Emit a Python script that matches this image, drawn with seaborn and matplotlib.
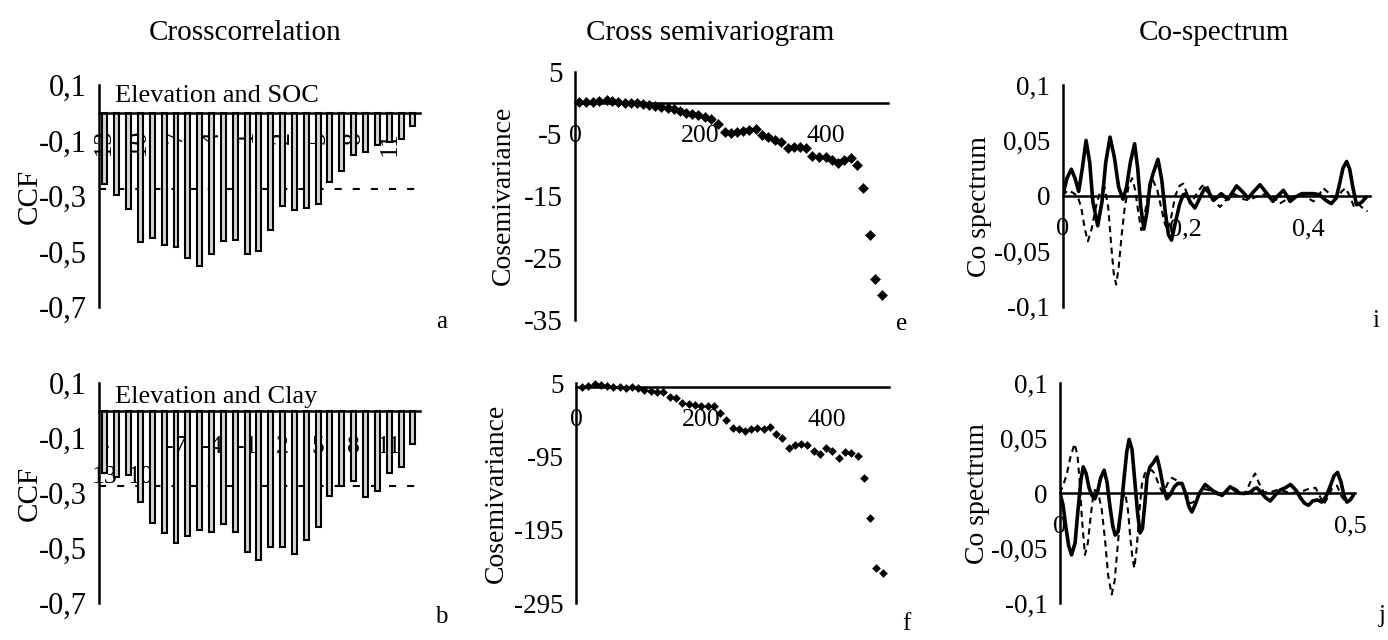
import matplotlib
matplotlib.use("Agg")
import matplotlib.pyplot as plt
import seaborn as sns

sns.set_theme(style="white")
plt.rcParams["font.family"] = ["Liberation Serif", "DejaVu Serif"]

# ---------------- data ----------------
lags = list(range(-13, 14))
ccf_soc = [-0.256, -0.297, -0.347, -0.465, -0.451, -0.477, -0.485, -0.522, -0.552,
           -0.509, -0.461, -0.460, -0.508, -0.497, -0.421, -0.336, -0.351, -0.342,
           -0.330, -0.249, -0.209, -0.151, -0.142, -0.115, -0.105, -0.096, -0.048]
ccf_clay = [-0.225, -0.240, -0.234, -0.331, -0.407, -0.446, -0.480, -0.455, -0.434,
            -0.441, -0.410, -0.441, -0.513, -0.543, -0.495, -0.495, -0.519, -0.468,
            -0.424, -0.311, -0.275, -0.255, -0.313, -0.290, -0.227, -0.204, -0.121]
ccf_limit = -0.275
ccf_tick_lags = [-13, -10, -7, -4, -1, 2, 5, 8, 11]
ccf_tick_labels_a = ["-13", "-10", "-7", "-4", "-1", "2", "5", "8", "11"]
ccf_tick_labels_b = ["-\n13", "-\n10", "-7", "-4", "-1", "2", "5", "8", "11"]

sv_lag_e = [6.4, 17.5, 28.1, 38.7, 50.4, 59.9, 69.0, 79.6, 89.1, 99.2, 108.8, 118.3,
            128.4, 137.9, 148.5, 158.1, 168.2, 177.7, 186.7, 196.3, 206.9, 217.5,
            228.1, 239.8, 249.3, 258.9, 269.0, 278.5, 289.1, 298.7, 308.8, 319.4,
            328.9, 339.5, 350.1, 359.7, 368.7, 379.3, 389.9, 400.5, 410.1, 420.2,
            429.7, 440.3, 449.9, 459.9, 470.6, 479.0, 489.7]
sv_soc = [0.16, 0.16, 0.16, 0.27, 0.43, 0.21, 0.11, 0.0, 0.0, 0.0, -0.16, -0.38,
          -0.54, -0.64, -0.81, -1.07, -1.34, -1.61, -1.88, -1.99, -2.36, -2.69,
          -3.44, -4.67, -4.94, -4.67, -4.57, -4.40, -4.30, -5.21, -5.59, -6.02,
          -6.28, -7.36, -7.20, -7.20, -7.36, -8.59, -8.70, -8.70, -9.24, -9.77,
          -9.24, -8.97, -10.04, -13.80, -21.32, -28.46, -30.99]

sv_lag_f = [9.0, 19.7, 30.3, 39.4, 49.0, 59.6, 70.2, 79.8, 89.9, 99.5, 109.0, 119.1,
            129.8, 139.4, 150.0, 159.6, 169.7, 180.3, 189.9, 199.5, 210.1, 220.2,
            229.8, 240.4, 250.0, 260.6, 269.7, 280.3, 289.9, 300.0, 310.6, 320.2,
            329.8, 340.4, 349.5, 359.0, 369.7, 379.8, 389.4, 400.0, 409.6, 420.2,
            430.3, 439.9, 450.5, 460.1, 470.2, 479.8, 490.4]
sv_clay = [0.5, 1.8, 3.6, 2.7, 1.8, -0.5, -0.5, -0.9, 0.5, -1.8, -4.1, -5.0,
           -7.3, -7.3, -13.2, -15.5, -21.4, -23.2, -24.5, -25.5, -25.9, -25.9,
           -35.0, -45.0, -55.5, -57.7, -60.0, -57.7, -55.5, -57.7, -55.0, -64.1,
           -70.0, -82.7, -79.1, -78.2, -79.1, -86.8, -91.4, -83.6, -86.8, -97.3,
           -89.1, -90.5, -94.1, -123.6, -178.2, -246.4, -254.1]

freq_i_solid = [0.000, 0.007, 0.014, 0.020, 0.026, 0.032, 0.038, 0.044, 0.049, 0.057,
                0.064, 0.070, 0.077, 0.084, 0.091, 0.098, 0.104, 0.110, 0.117, 0.122,
                0.127, 0.132, 0.137, 0.142, 0.147, 0.155, 0.161, 0.167, 0.172, 0.177,
                0.183, 0.190, 0.196, 0.201, 0.208, 0.215, 0.223, 0.231, 0.238, 0.245,
                0.252, 0.258, 0.264, 0.269, 0.276, 0.283, 0.292, 0.302, 0.311, 0.321,
                0.331, 0.342, 0.350, 0.359, 0.365, 0.370, 0.379, 0.389, 0.398, 0.408,
                0.418, 0.428, 0.437, 0.445, 0.451, 0.456, 0.462, 0.467, 0.472, 0.478,
                0.486, 0.494]
cosp_i_solid = [0.000, 0.016, 0.024, 0.016, 0.004, 0.025, 0.050, 0.030, -0.005, -0.027,
                -0.005, 0.030, 0.053, 0.035, 0.008, -0.003, 0.008, 0.030, 0.047, 0.025,
                -0.010, -0.030, -0.015, 0.010, 0.020, 0.033, 0.015, -0.015, -0.035, -0.040,
                -0.025, -0.008, 0.001, 0.002, -0.006, -0.011, -0.002, 0.007, 0.003, -0.004,
                -0.001, 0.002, -0.001, -0.003, 0.003, 0.009, 0.004, -0.002, 0.004, 0.010,
                0.003, -0.005, 0.000, 0.005, 0.000, -0.005, -0.001, 0.002, 0.002, 0.002,
                0.001, -0.004, -0.007, -0.002, 0.012, 0.025, 0.031, 0.024, 0.008, -0.008,
                -0.006, -0.001]
freq_i_dash = [0.000, 0.008, 0.016, 0.024, 0.030, 0.036, 0.041, 0.047, 0.054, 0.061,
               0.068, 0.074, 0.079, 0.083, 0.087, 0.091, 0.096, 0.101, 0.107, 0.113,
               0.118, 0.123, 0.128, 0.133, 0.140, 0.147, 0.154, 0.160, 0.166, 0.171,
               0.177, 0.183, 0.190, 0.196, 0.201, 0.207, 0.213, 0.220, 0.227, 0.234,
               0.241, 0.248, 0.256, 0.264, 0.271, 0.277, 0.285, 0.294, 0.304, 0.314,
               0.325, 0.336, 0.345, 0.353, 0.362, 0.372, 0.384, 0.396, 0.408, 0.416,
               0.424, 0.432, 0.440, 0.447, 0.454, 0.460, 0.467, 0.474, 0.482, 0.490,
               0.496]
cosp_i_dash = [0.000, 0.005, 0.003, 0.000, -0.010, -0.030, -0.041, -0.030, -0.010, 0.004,
               0.008, -0.010, -0.045, -0.070, -0.080, -0.065, -0.035, -0.010, 0.008, 0.016,
               0.005, -0.015, -0.031, -0.018, 0.004, 0.014, 0.005, -0.010, -0.025, -0.031,
               -0.018, 0.000, 0.009, 0.011, 0.004, -0.007, -0.003, 0.004, 0.009, 0.010,
               0.002, -0.006, -0.010, -0.005, 0.000, 0.002, 0.000, -0.003, -0.004, -0.001,
               0.001, 0.002, -0.002, -0.007, -0.004, -0.001, 0.001, -0.001, -0.005, 0.000,
               0.007, 0.003, -0.001, -0.001, 0.004, 0.007, 0.000, -0.010, -0.008, -0.012,
               -0.014]

freq_j_solid = [0.000, 0.005, 0.010, 0.015, 0.020, 0.026, 0.031, 0.036, 0.040, 0.045,
                0.050, 0.055, 0.060, 0.065, 0.070, 0.076, 0.081, 0.086, 0.091, 0.095,
                0.100, 0.105, 0.110, 0.115, 0.119, 0.124, 0.129, 0.134, 0.138, 0.142,
                0.146, 0.150, 0.155, 0.161, 0.167, 0.172, 0.178, 0.184, 0.190, 0.197,
                0.203, 0.210, 0.216, 0.222, 0.227, 0.233, 0.240, 0.250, 0.257, 0.264,
                0.272, 0.279, 0.286, 0.293, 0.301, 0.310, 0.319, 0.328, 0.334, 0.339,
                0.346, 0.354, 0.362, 0.370, 0.379, 0.388, 0.397, 0.406, 0.414, 0.421,
                0.428, 0.435, 0.443, 0.451, 0.458, 0.465, 0.472, 0.478, 0.484, 0.489,
                0.494, 0.500, 0.506]
cosp_j_solid = [0.000, -0.010, -0.030, -0.048, -0.056, -0.045, -0.015, 0.012, 0.024, 0.018,
                0.005, -0.002, -0.005, 0.002, 0.014, 0.021, 0.010, -0.012, -0.030, -0.038,
                -0.035, -0.015, 0.012, 0.038, 0.049, 0.040, 0.010, -0.020, -0.036, -0.032,
                -0.010, 0.015, 0.024, 0.028, 0.033, 0.022, 0.005, -0.005, -0.001, 0.006,
                0.009, 0.009, 0.000, -0.012, -0.017, -0.010, 0.000, 0.008, 0.005, 0.002,
                0.000, -0.002, 0.002, 0.006, 0.003, 0.000, 0.000, 0.001, 0.004, 0.005,
                0.001, -0.004, -0.007, -0.002, 0.003, 0.005, 0.008, 0.003, -0.004, -0.009,
                -0.011, -0.007, -0.006, -0.008, -0.003, 0.006, 0.016, 0.019, 0.010, -0.002,
                -0.008, -0.006, -0.001]
freq_j_dash = [0.000, 0.006, 0.012, 0.018, 0.025, 0.030, 0.034, 0.038, 0.043, 0.048,
               0.053, 0.057, 0.060, 0.066, 0.072, 0.078, 0.083, 0.089, 0.094, 0.099,
               0.104, 0.108, 0.112, 0.117, 0.121, 0.125, 0.128, 0.132, 0.137, 0.141,
               0.146, 0.152, 0.158, 0.163, 0.170, 0.176, 0.182, 0.188, 0.193, 0.200,
               0.207, 0.213, 0.219, 0.224, 0.230, 0.238, 0.247, 0.256, 0.266, 0.276,
               0.288, 0.299, 0.308, 0.316, 0.322, 0.330, 0.336, 0.342, 0.351, 0.362,
               0.374, 0.386, 0.397, 0.408, 0.418, 0.428, 0.440, 0.447, 0.454, 0.461,
               0.468, 0.477, 0.485, 0.494, 0.500, 0.506]
cosp_j_dash = [0.000, 0.008, 0.018, 0.033, 0.045, 0.035, 0.010, -0.025, -0.056, -0.045,
               -0.020, -0.003, 0.003, 0.000, -0.015, -0.045, -0.075, -0.092, -0.080, -0.050,
               -0.020, -0.005, 0.001, -0.015, -0.040, -0.060, -0.068, -0.050, -0.015, 0.008,
               0.018, 0.021, 0.021, 0.018, 0.008, 0.001, 0.005, 0.012, 0.014, 0.012,
               0.009, 0.006, -0.002, -0.009, -0.008, -0.002, 0.004, 0.003, 0.000, -0.002,
               0.002, 0.005, 0.002, -0.001, 0.003, 0.013, 0.018, 0.010, 0.001, 0.001,
               0.003, 0.002, 0.000, 0.001, 0.002, 0.004, 0.005, -0.002, -0.010, -0.004,
               0.004, 0.007, -0.003, -0.009, -0.005, 0.000]

# ---------------- layout helpers ----------------
W, H = 1388, 640
fig = plt.figure(figsize=(W / 100, H / 100), dpi=100)


def add_axes_px(x0, x1, ytop, ybot):
    return fig.add_axes([x0 / W, 1 - ybot / H, (x1 - x0) / W, (ybot - ytop) / H])


SPINE_W = 1.8
LABEL_FS = 20


def style_axes(ax, yticks, ylabels, xpad=9, ytick_fs=21, xtick_fs=18.5):
    for side in ("top", "right"):
        ax.spines[side].set_visible(False)
    for side in ("left", "bottom"):
        ax.spines[side].set_linewidth(SPINE_W)
        ax.spines[side].set_color("black")
    ax.spines["bottom"].set_position(("data", 0))
    ax.tick_params(axis="both", direction="out", length=5, width=SPINE_W,
                   color="black", labelcolor="black")
    ax.tick_params(axis="x", pad=xpad, labelsize=xtick_fs)
    ax.tick_params(axis="y", labelsize=ytick_fs, pad=4)
    ax.set_yticks(yticks)
    ax.set_yticklabels(ylabels)
    ax.grid(False)
    ax.set_facecolor("none")
    ax.set_xlabel("")


# ---------------- cross-correlation panels ----------------
ccf_yt = [0.1, -0.1, -0.3, -0.5, -0.7]
ccf_yl = ["0,1", "-0,1", "-0,3", "-0,5", "-0,7"]

for (ytop, ybot, vals, ticklabs, rot, pad, note, note_y) in [
    (85, 307, ccf_soc, ccf_tick_labels_a, 90, 8, "Elevation and SOC", 0.04),
    (383.3, 603.3, ccf_clay, ccf_tick_labels_b, 0, 13, "Elevation and Clay", 0.029),
]:
    ax = add_axes_px(99, 420, ytop, ybot)
    ax.axhline(ccf_limit, color="black", lw=1.5, ls=(0, (3.4, 5.3)), zorder=1)
    sns.barplot(x=lags, y=vals, native_scale=True, width=0.42, color="#d6d6d6",
                saturation=1, edgecolor="black", linewidth=1.5, errorbar=None,
                ax=ax, zorder=2)
    ax.set_xlim(-13.5, 13.6)
    ax.set_ylim(-0.7, 0.1)
    style_axes(ax, ccf_yt, ccf_yl, xpad=pad, ytick_fs=22, xtick_fs=18.5)
    ax.set_xticks(ccf_tick_lags)
    ax.set_xticklabels(ticklabs, rotation=rot, linespacing=1.5)
    ax.set_ylabel("CCF", fontsize=21, color="black")
    ax.yaxis.set_label_coords(-0.174, 0.5)
    ax.text(-12.15, note_y, note, fontsize=19, ha="left", va="baseline", color="black")

# ---------------- cross semivariogram panels ----------------
ax = add_axes_px(575, 888, 71.7, 320)
sns.scatterplot(x=sv_lag_e, y=sv_soc, marker="D", s=26, color="black",
                edgecolor="black", linewidth=0.4, ax=ax, zorder=3, clip_on=False)
ax.set_xlim(0, 500)
ax.set_ylim(-35, 5)
style_axes(ax, [5, -5, -15, -25, -35], ["5", "-5", "-15", "-25", "-35"], xpad=11)
ax.set_xticks([0, 200, 400])
ax.set_xticklabels(["0", "200", "400"])
ax.set_ylabel("Cosemivariance", fontsize=LABEL_FS, color="black")
ax.yaxis.set_label_coords(-0.19, 0.5)

ax = add_axes_px(576, 889, 383.3, 603.3)
sns.scatterplot(x=sv_lag_f, y=sv_clay, marker="D", s=16, color="black",
                edgecolor="black", linewidth=0.4, ax=ax, zorder=3, clip_on=False)
ax.set_xlim(0, 500)
ax.set_ylim(-295, 5)
style_axes(ax, [5, -95, -195, -295], ["5", "-95", "-195", "-295"], xpad=11,
           ytick_fs=19.5)
ax.set_xticks([0, 200, 400])
ax.set_xticklabels(["0", "200", "400"])
ax.set_ylabel("Cosemivariance", fontsize=LABEL_FS, color="black")
ax.yaxis.set_label_coords(-0.215, 0.5)

# ---------------- co-spectrum panels ----------------
cs_yt = [0.1, 0.05, 0, -0.05, -0.1]
cs_yl = ["0,1", "0,05", "0", "-0,05", "-0,1"]

ax = add_axes_px(1062.7, 1370, 85, 306.7)
sns.lineplot(x=freq_i_dash, y=cosp_i_dash, color="black", lw=1.5,
             ls=(0, (3, 2.2)), estimator=None, ax=ax, zorder=2)
sns.lineplot(x=freq_i_solid, y=cosp_i_solid, color="black", lw=2.6,
             estimator=None, ax=ax, zorder=3)
ax.set_xlim(0, 0.5)
ax.set_ylim(-0.1, 0.1)
style_axes(ax, cs_yt, cs_yl, xpad=11, ytick_fs=19.5, xtick_fs=19)
ax.set_xticks([0, 0.2, 0.4])
ax.set_xticklabels(["0", "0,2", "0,4"])
ax.set_ylabel("Co spectrum", fontsize=LABEL_FS, color="black")
ax.yaxis.set_label_coords(-0.23, 0.45)

ax = add_axes_px(1060, 1355, 383.3, 603.3)
sns.lineplot(x=freq_j_dash, y=cosp_j_dash, color="black", lw=1.5,
             ls=(0, (3, 2.2)), estimator=None, ax=ax, zorder=2)
sns.lineplot(x=freq_j_solid, y=cosp_j_solid, color="black", lw=2.6,
             estimator=None, ax=ax, zorder=3)
ax.set_xlim(0, 0.508)
ax.set_ylim(-0.1, 0.1)
style_axes(ax, cs_yt, cs_yl, xpad=11, ytick_fs=19.5, xtick_fs=19)
ax.set_xticks([0, 0.5])
ax.set_xticklabels(["0", "0,5"])
ax.set_ylabel("Co spectrum", fontsize=LABEL_FS, color="black")
ax.yaxis.set_label_coords(-0.237, 0.5)

# ---------------- titles and panel letters ----------------
for x, txt in [(245, "Crosscorrelation"), (710, "Cross semivariogram"), (1214, "Co-spectrum")]:
    fig.text(x / W, 1 - 33 / H, txt, ha="center", va="center", fontsize=21, color="black")

for x, y, txt in [(442, 328, "a"), (441, 623, "b"), (902, 330, "e"),
                  (906, 630, "f"), (1376, 327, "i"), (1382, 622, "j")]:
    fig.text(x / W, 1 - y / H, txt, ha="center", va="baseline", fontsize=18, color="black")

fig.savefig("out.png", dpi=100, facecolor="white")
